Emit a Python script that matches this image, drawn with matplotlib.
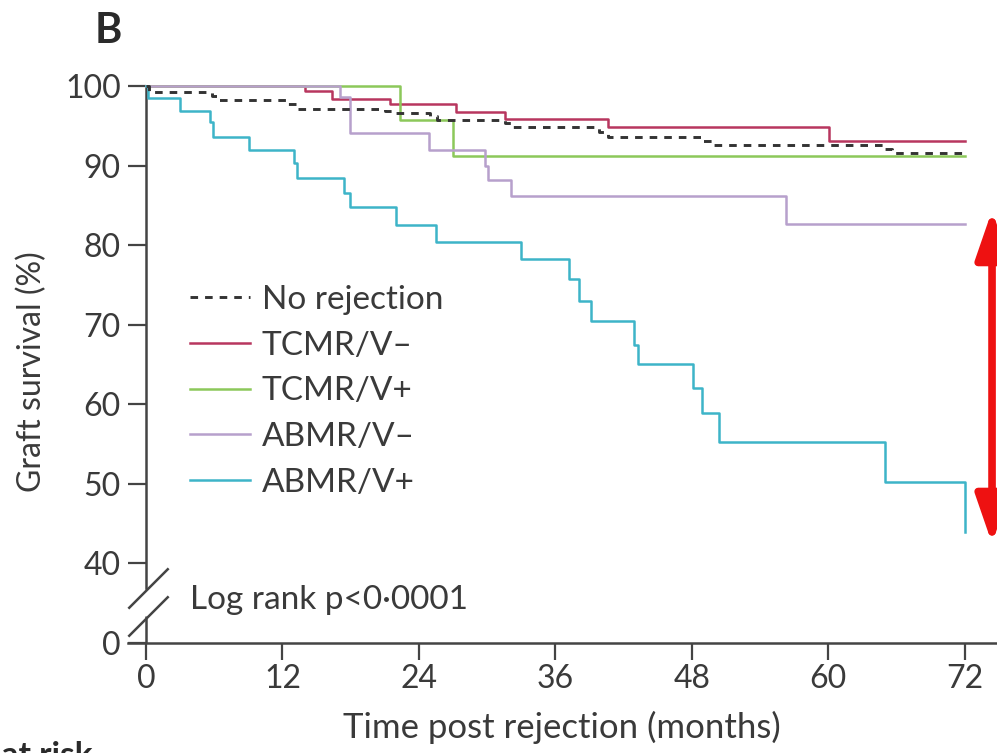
import numpy as np
import matplotlib
matplotlib.use("Agg")
import matplotlib.pyplot as plt
from matplotlib.transforms import offset_copy

plt.rcParams['font.family'] = ['Lato', 'DejaVu Sans']

# ---------------- data ----------------
no_rej_t = [0, 0.3, 5.8, 6.3, 12.5, 13.3, 21.0, 21.6, 25.0, 25.6, 31.6, 32.2,
            39.8, 40.6, 48.9, 49.8, 64.8, 65.6, 72]
no_rej_v = [100, 99.3, 98.7, 98.2, 97.7, 97.1, 96.9, 96.6, 96.2, 95.7, 95.4, 94.8,
            94.2, 93.6, 93.1, 92.6, 92.1, 91.6, 91.6]

tcmr_vm_t = [0, 14.0, 16.4, 21.5, 27.3, 31.6, 40.6, 60.1, 72]
tcmr_vm_v = [100, 99.4, 98.4, 97.7, 96.7, 95.9, 94.8, 93.1, 93.1]

tcmr_vp_t = [0, 22.3, 27.0, 72]
tcmr_vp_v = [100, 95.7, 91.2, 91.2]

abmr_vm_t = [0, 17.1, 17.9, 24.9, 29.8, 30.1, 32.1, 56.3, 72]
abmr_vm_v = [100, 98.6, 94.1, 92.0, 90.0, 88.2, 86.2, 82.7, 82.7]

abmr_vp_t = [0, 0.2, 3.0, 5.6, 5.9, 9.1, 13.0, 13.3, 17.4, 17.9, 22.0, 25.5,
             33.0, 37.2, 38.1, 39.1, 42.9, 43.3, 48.1, 48.9, 50.4, 65.0, 72.0]
abmr_vp_v = [100, 98.5, 96.8, 95.5, 93.6, 91.9, 90.3, 88.4, 86.5, 84.8, 82.5, 80.4,
             78.2, 75.8, 73.0, 70.5, 67.5, 65.1, 62.0, 58.9, 55.3, 50.2, 43.9]

labels = ["No rejection", "TCMR/V\u2013", "TCMR/V+", "ABMR/V\u2013", "ABMR/V+"]
colors = ["#333333", "#b8365f", "#8cc85a", "#b7a0cc", "#3db4c8"]

x_ticks = [0, 12, 24, 36, 48, 60, 72]
y_ticks = [0, 40, 50, 60, 70, 80, 90, 100]

TXT = "#3a3a3a"
FS = 24
FS_TICK = 23

# ---------------- figure ----------------
W, H = 997, 753
fig = plt.figure(figsize=(W / 100, H / 100), dpi=100)
ax = fig.add_axes([128 / W, 1 - 643 / H, (1000 - 128) / W, (643 - 86) / H])


def fwd(y):
    y = np.asarray(y, dtype=float)
    return np.where(y >= 40, y, 30 + y / 4.0)


def inv(y):
    y = np.asarray(y, dtype=float)
    return np.where(y >= 40, y, (y - 30) * 4.0)


ax.set_yscale('function', functions=(fwd, inv))
ax.set_xlim(-1.58, 75.1)
ax.set_ylim(0, 100)

series = [(no_rej_t, no_rej_v), (tcmr_vm_t, tcmr_vm_v), (tcmr_vp_t, tcmr_vp_v),
          (abmr_vm_t, abmr_vm_v), (abmr_vp_t, abmr_vp_v)]
handles = []
for i, ((t, v), lab, col) in enumerate(zip(series, labels, colors)):
    if i == 0:
        ln, = ax.step(t, v, where='post', color=col, lw=2.1,
                      linestyle=(0, (2.6, 2.4)), label=lab, clip_on=False, zorder=5)
    else:
        ln, = ax.step(t, v, where='post', color=col, lw=1.8, label=lab,
                      clip_on=False, zorder=4)
    handles.append(ln)

# spines
SP = "#444444"
for s in ['top', 'right']:
    ax.spines[s].set_visible(False)
ax.spines['left'].set_position(('data', 0))
ax.spines['left'].set_bounds(27.7, 100)
ax.spines['left'].set_color(SP)
ax.spines['left'].set_linewidth(1.8)
ax.spines['bottom'].set_color(SP)
ax.spines['bottom'].set_linewidth(1.8)
# lower piece of the broken axis
ax.plot([0, 0], [0, 13.4], color=SP, lw=1.8, clip_on=False, solid_capstyle='butt')
# break marks
for yb in (27.7, 13.6):
    ax.plot([0.15], [yb], marker=[(-1, -1), (1, 1)], markersize=29, mew=1.8,
            color=SP, clip_on=False, linestyle='none')

ax.set_xticks(x_ticks)
ax.set_yticks(y_ticks)
ax.set_xticklabels([str(v) for v in x_ticks])
ax.set_yticklabels([str(v) for v in y_ticks])
ax.tick_params(axis='x', direction='out', length=12, width=1.6, color=SP,
               labelsize=FS_TICK, labelcolor=TXT, pad=3)
ax.tick_params(axis='y', direction='out', length=13, width=1.6, color=SP,
               labelsize=FS_TICK, labelcolor=TXT, pad=5)
ax.minorticks_off()

# labels
fig.text(562 / W, 1 - 738 / H, "Time post rejection (months)", ha='center',
         va='baseline', fontsize=25, color=TXT)
fig.text(32 / W, 1 - 372 / H, "Graft survival (%)", ha='center', va='center',
         rotation=90, fontsize=23, color=TXT)
fig.text(95 / W, 1 - 43 / H, "B", ha='left', va='baseline', fontsize=30,
         fontweight='bold', color="#2a2a2a")
fig.text(92 / W, 1 - 741 / H, "Number at risk", ha='right', va='top', fontsize=FS,
         fontweight='bold', color="#2a2a2a")

ax.text(3.9, 21.6, "Log rank p<0\u00b70001", ha='left', va='center', fontsize=FS,
        color=TXT)

leg = ax.legend(handles=handles, labels=labels, loc='upper left',
                bbox_to_anchor=(0.0711, 0.643), frameon=False, fontsize=FS,
                handlelength=1.8, handletextpad=0.36, labelspacing=0.47,
                borderpad=0, borderaxespad=0)
for t in leg.get_texts():
    t.set_color(TXT)

# red double-headed arrow between ABMR/V- and ABMR/V+ at 72 months
ax.annotate('', xy=(74.4, abmr_vp_v[-1]),
            xycoords=offset_copy(ax.transData, fig=fig, y=-8, units='points'),
            xytext=(74.4, abmr_vm_v[-1]),
            textcoords=offset_copy(ax.transData, fig=fig, y=9.5, units='points'),
            arrowprops=dict(arrowstyle='<|-|>,head_length=2.9,head_width=1.0',
                            mutation_scale=10, color='#ee1111', lw=5.5,
                            shrinkA=0, shrinkB=0), annotation_clip=False)

fig.savefig("out.png", dpi=100)
